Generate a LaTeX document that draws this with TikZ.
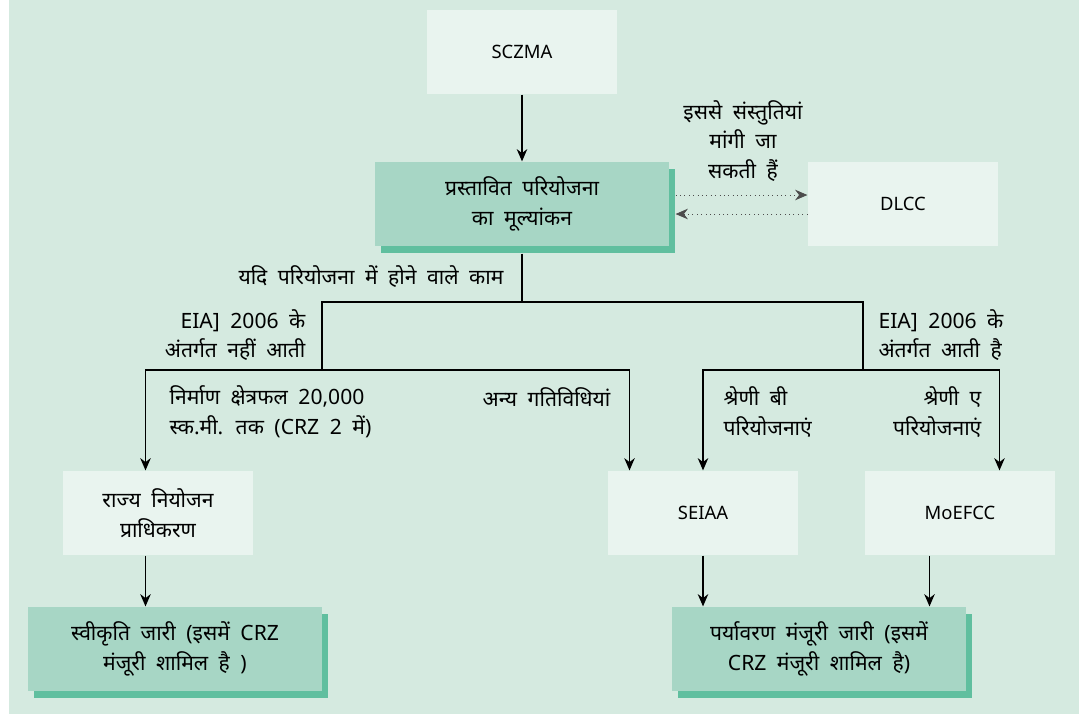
\documentclass[tikz,border=0pt]{standalone}
\usepackage{fontspec}
\setmainfont{Noto Sans}[Script=Devanagari]
\usetikzlibrary{arrows.meta,shadows}
\definecolor{panel}{RGB}{213,234,224}
\definecolor{pale}{RGB}{233,244,239}
\definecolor{mint}{RGB}{167,214,197}
\definecolor{deepmint}{RGB}{96,191,159}
\newcommand\hindisize{\fontsize{12}{17}\selectfont\spaceskip=6pt plus 1pt\lineskiplimit=-20pt\relax}

\begin{document}
\begin{tikzpicture}[x=0.02cm,y=-0.02cm,
  font=\hindisize,
  >={Stealth[length=7pt,width=6pt]},
  line width=0.7pt,
  body/.style={fill=pale,minimum width=3.8cm,minimum height=1.68cm,align=center,inner sep=0pt},
  tag/.style={font=\fontsize{10.5}{14}\selectfont},
  keybox/.style={fill=mint,minimum width=5.88cm,minimum height=1.68cm,align=center,inner sep=0pt,
    drop shadow={shadow xshift=0.12cm,shadow yshift=-0.14cm,fill=deepmint,opacity=1}},
  note/.style={inner sep=0pt},
  dots/.style={dotted,line width=0.5pt,draw=black!70}]
\useasboundingbox (0,0) rectangle (1079,714);
\fill[panel] (9,0) rectangle (1079,714);

\node[body,tag] (sczma) at (522,52) {SCZMA};
\node[keybox] (eval) at (522,204) {प्रस्तावित परियोजना\\का मूल्यांकन};
\node[body,tag] (dlcc) at (903,204) {DLCC};
\node[body] (plan) at (158,513) {राज्य नियोजन\\प्राधिकरण};
\node[body,tag] (seiaa) at (703,513) {SEIAA};
\node[body,tag] (moefcc) at (960,513) {MoEFCC};
\node[keybox] (nocl) at (175,649) {स्वीकृति जारी (इसमें CRZ\\मंजूरी शामिल है )};
\node[keybox,minimum width=5.9cm] (envclr) at (819,649) {पर्यावरण मंजूरी जारी (इसमें\\CRZ मंजूरी शामिल है)};

\node[note,align=center] (ask) at (743,141) {इससे संस्तुतियां\\मांगी जा\\सकती हैं};
\node[note,anchor=east] (ifwork) at (504,277) {यदि परियोजना में होने वाले काम};
\node[note,align=right,anchor=east] (notunder) at (306,335) {EIA] 2006 के\\अंतर्गत नहीं आती};
\node[note,align=left,anchor=west] (under) at (878,335) {EIA] 2006 के\\अंतर्गत आती है};
\node[note,align=left,anchor=west] (area) at (169,412) {निर्माण क्षेत्रफल 20,000\\स्क.मी. तक (CRZ 2 में)};
\node[note,anchor=east] (other) at (611,397) {अन्य गतिविधियां};
\node[note,align=left,anchor=west] (catb) at (723,412) {श्रेणी बी\\परियोजनाएं};
\node[note,align=right,anchor=east] (cata) at (982,412) {श्रेणी ए\\परियोजनाएं};

\draw[->] (sczma) -- (eval);
\draw[->,dots] ([xshift=0.12cm,yshift=0.18cm]eval.east) -- ([yshift=0.18cm]dlcc.west);
\draw[->,dots] ([yshift=-0.2cm]dlcc.west) -- ([xshift=0.12cm,yshift=-0.2cm]eval.east);

\coordinate (split) at (522,302);
\coordinate (notin) at (322,370);
\coordinate (isin) at (863,370);
\draw ([yshift=-0.14cm]eval.south) -- (split);
\draw (notin) |- (split) -| (isin);
\coordinate (planin) at ([xshift=-0.25cm]plan.north);
\coordinate (otherin) at ([xshift=-1.47cm]seiaa.north);
\coordinate (moin) at ([xshift=0.79cm]moefcc.north);
\draw[->] (notin) -| (planin);
\draw[->] (notin) -| (otherin);
\draw[->] (isin) -| (seiaa.north);
\draw[->] (isin) -| (moin);

\coordinate (planout) at ([xshift=-0.25cm]plan.south);
\coordinate (moout) at ([xshift=-0.61cm]moefcc.south);
\draw[->] (planout) -- (planout |- nocl.north);
\draw[->] (seiaa.south) -- (seiaa.south |- envclr.north);
\draw[->] (moout) -- (moout |- envclr.north);
\end{tikzpicture}
\end{document}
